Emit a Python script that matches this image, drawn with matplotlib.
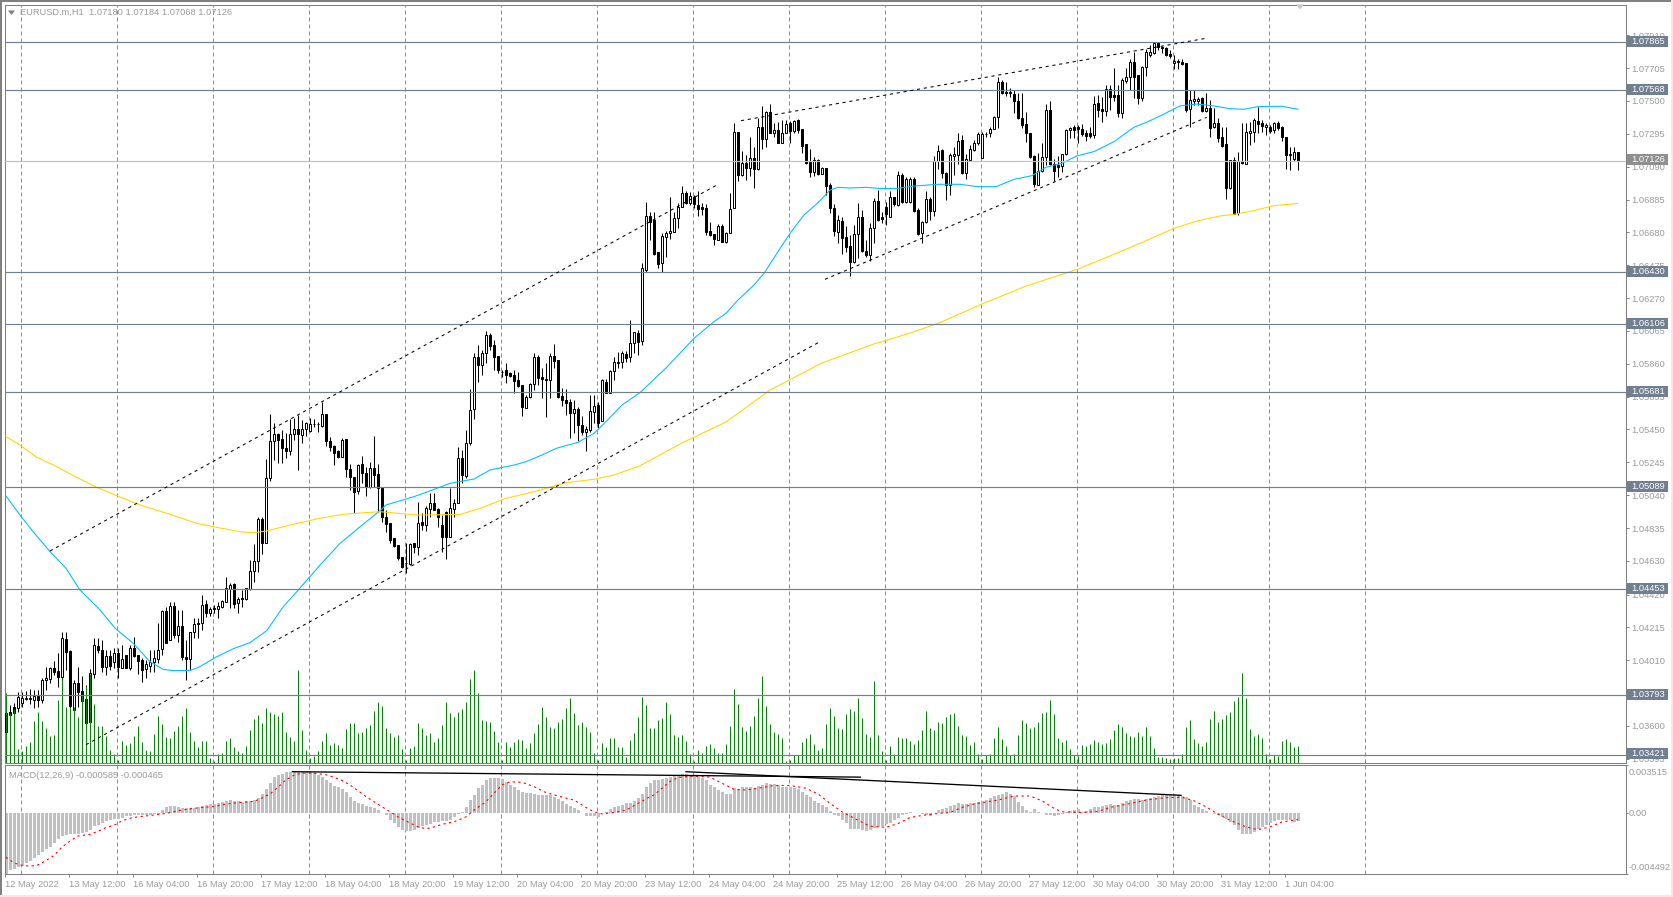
import numpy as np
import matplotlib
matplotlib.use("Agg")
import matplotlib.pyplot as plt
from matplotlib.patches import Rectangle

W, H = 1673, 897
BASE = 1.03      # candle values are points (1e-5) above this price

open_ = [679,689,720,710,745,766,777,764,789,762,
887,893,960,943,908,1143,1070,700,866,820,
768,627,924,1099,1074,970,1039,997,1057,960,
1043,960,1089,1043,1012,953,976,1001,1016,1078,
1317,1136,1349,1168,1224,1028,1016,1184,1245,1240,
1361,1307,1334,1328,1344,1376,1455,1486,1365,1396,
1392,1457,1565,1627,1891,1740,2145,2380,2422,2389,
2332,2318,2420,2451,2418,2451,2443,2484,2484,2472,
2544,2380,2347,2315,2280,2390,2201,2151,2068,2232,
2180,2093,2207,2170,2083,1902,1864,1771,1729,1652,
1615,1610,1739,1719,1875,1854,1954,1989,1951,1854,
1937,1781,1952,1989,2270,2160,2368,2576,2900,2852,
2925,3039,2977,2908,2809,2821,2800,2790,2759,2727,
2586,2650,2734,2900,2775,2763,2759,2908,2883,2659,
2634,2623,2555,2576,2476,2434,2447,2561,2603,2505,
2748,2680,2817,2873,2873,2921,2900,2987,3050,3000,
3445,3782,3757,3555,3487,3649,3678,3684,3768,3836,
3928,3861,3903,3849,3836,3830,3686,3668,3632,3720,
3622,3674,3830,4304,4038,4111,4080,4142,4073,4335,
4263,4429,4302,4319,4240,4302,4360,4315,4381,4323,
4229,4119,4059,4132,4044,4082,3973,3834,3684,3753,
3649,3595,3497,3670,3774,3566,3539,3709,3876,3774,
3836,3774,3899,3851,4036,3872,3872,4015,3820,3674,
3747,3886,3815,4127,4194,4049,3976,4157,4163,4257,
4049,4132,4194,4236,4142,4292,4298,4323,4398,4621,
4558,4556,4544,4502,4392,4354,4298,4157,3976,4063,
4148,4444,4107,4101,4094,4167,4319,4340,4340,4323,
4298,4298,4288,4485,4448,4440,4573,4537,4537,4423,
4627,4652,4745,4662,4517,4710,4785,4802,4864,4839,
4833,4793,4735,4743,4743,4735,4448,4502,4502,4517,
4440,4454,4336,4361,4277,4232,3955,4132,3799,4126,
4107,4302,4309,4375,4365,4336,4340,4319,4361,4340,
4277,4161,4136,4180]

high = [700,731,741,814,814,820,829,824,824,901,
970,970,1005,1053,1184,1184,1074,887,970,912,
856,955,1147,1147,1136,1074,1074,1084,1084,1105,
1043,1105,1157,1043,1022,1012,1074,1074,1245,1324,
1344,1376,1376,1324,1324,1136,1184,1272,1272,1417,
1386,1344,1355,1376,1386,1527,1490,1494,1407,1448,
1459,1636,1735,1906,1906,2264,2547,2488,2430,2447,
2426,2513,2520,2540,2509,2499,2520,2513,2499,2623,
2544,2401,2353,2322,2395,2390,2234,2151,2234,2284,
2218,2249,2409,2234,2083,1947,1864,1771,1729,1656,
1739,1739,1739,1999,1927,1972,2051,2051,1958,1916,
1943,2083,2014,2343,2322,2447,2700,2925,2977,2946,
3066,3054,3008,2908,2821,2863,2811,2821,2811,2727,
2665,2738,2929,2915,2831,2863,2925,2983,2883,2707,
2700,2638,2634,2588,2534,2472,2665,2665,2623,2763,
2763,2821,2900,2935,2942,2942,3133,3060,3071,3487,
3872,3809,3809,3560,3674,3691,3903,3809,3861,3969,
3940,3934,3913,3940,3861,3857,3747,3668,3732,3732,
3684,3928,4365,4304,4190,4163,4273,4215,4392,4469,
4439,4481,4365,4371,4381,4381,4377,4381,4385,4323,
4229,4198,4148,4136,4090,4082,3990,3857,3788,3778,
3720,3664,3726,3865,3820,3632,3741,3892,3944,3809,
3872,3940,3903,4065,4053,4023,4023,4023,3830,3753,
3940,3903,4157,4225,4198,4059,4173,4215,4298,4288,
4169,4225,4257,4309,4309,4309,4340,4406,4648,4631,
4621,4579,4569,4548,4548,4433,4298,4163,4178,4236,
4481,4502,4136,4157,4167,4323,4340,4350,4350,4356,
4319,4340,4531,4537,4527,4600,4600,4704,4600,4641,
4704,4760,4808,4662,4718,4822,4849,4864,4864,4843,
4839,4818,4787,4760,4760,4735,4569,4569,4527,4527,
4548,4506,4454,4392,4340,4340,4132,4153,4184,4361,
4361,4371,4392,4465,4381,4361,4350,4371,4377,4344,
4277,4215,4215,4184]

low = [554,606,679,689,720,762,737,710,720,741,
824,866,918,841,841,949,710,668,720,637,
616,621,897,1053,939,918,949,960,897,960,
960,949,1032,924,876,897,939,939,991,1043,
1116,1136,1147,1126,1012,887,949,1147,1147,1199,
1282,1286,1303,1272,1334,1376,1334,1334,1303,1344,
1386,1448,1500,1563,1673,1740,2131,2260,2239,2239,
2270,2291,2384,2197,2364,2409,2436,2468,2436,2467,
2347,2318,2228,2270,2280,2155,2072,1927,2047,2114,
2035,2083,2093,1937,1875,1812,1739,1719,1635,1583,
1552,1604,1677,1667,1823,1818,1906,1947,1843,1687,
1640,1781,1906,1989,2114,2145,2353,2513,2748,2790,
2863,2946,2821,2800,2779,2738,2779,2675,2717,2534,
2582,2644,2696,2727,2644,2530,2644,2831,2644,2596,
2540,2395,2426,2380,2415,2318,2436,2488,2457,2505,
2675,2675,2759,2831,2831,2873,2873,2925,2915,2977,
3435,3632,3539,3456,3435,3528,3637,3684,3705,3836,
3857,3851,3830,3782,3788,3664,3657,3601,3632,3622,
3612,3674,3830,4003,4032,4007,4032,3955,4069,4198,
4215,4302,4273,4236,4236,4298,4236,4298,4298,4173,
4107,4028,4032,4038,4044,3913,3799,3657,3612,3545,
3560,3408,3487,3518,3560,3528,3503,3612,3753,3736,
3726,3774,3845,3845,3865,3865,3865,3809,3664,3616,
3736,3757,3782,4073,4017,3882,3913,4038,4107,4044,
4011,4128,4190,4225,4142,4273,4277,4323,4329,4544,
4531,4527,4427,4386,4329,4242,4142,3965,3976,4059,
4101,4101,4003,4028,4059,4163,4267,4267,4240,4282,
4250,4267,4267,4402,4371,4406,4444,4502,4398,4392,
4610,4569,4517,4481,4502,4656,4777,4793,4818,4797,
4781,4766,4698,4698,4725,4433,4336,4475,4475,4433,
4433,4273,4329,4246,4215,3886,3949,3793,3789,4107,
4107,4225,4246,4298,4309,4288,4298,4302,4319,4252,
4074,4069,4128,4068]

close = [564,668,683,779,777,777,768,789,762,887,
901,960,935,908,1147,1064,725,866,814,758,
621,928,1105,1074,970,1039,976,1057,970,1016,
960,1089,1037,1007,949,987,1001,1022,1074,1317,
1116,1349,1168,1224,1028,1016,1184,1236,1236,1355,
1307,1330,1332,1349,1378,1459,1480,1361,1390,1390,
1459,1565,1627,1889,1740,2145,2380,2422,2384,2332,
2318,2420,2451,2420,2451,2493,2484,2484,2482,2544,
2380,2343,2305,2280,2384,2201,2151,2062,2228,2180,
2093,2207,2166,2087,1902,1860,1760,1723,1646,1590,
1617,1735,1719,1864,1854,1958,1989,1947,1906,1777,
1777,1958,1989,2270,2166,2363,2571,2900,2852,2925,
3039,2973,2904,2821,2811,2790,2784,2754,2721,2588,
2650,2734,2900,2769,2763,2759,2908,2879,2655,2634,
2617,2555,2576,2478,2434,2451,2565,2596,2488,2759,
2680,2817,2873,2863,2925,2894,2987,3056,2998,3458,
3782,3747,3545,3483,3657,3678,3691,3768,3836,3928,
3861,3907,3857,3828,3828,3684,3664,3637,3720,3622,
3678,3824,4304,4038,4111,4084,4142,4073,4335,4263,
4429,4302,4319,4240,4302,4356,4313,4377,4319,4221,
4111,4059,4132,4044,4082,3969,3830,3691,3757,3647,
3591,3497,3670,3778,3566,3539,3705,3876,3757,3765,
3795,3899,3857,4036,3872,4015,4011,3815,3668,3747,
3886,3815,4127,4190,4053,3976,4163,4169,4250,4049,
4136,4198,4236,4292,4294,4292,4323,4398,4621,4552,
4548,4548,4502,4392,4350,4298,4153,3982,4065,4148,
4444,4107,4065,4086,4167,4319,4329,4319,4325,4292,
4284,4282,4481,4444,4440,4573,4527,4527,4423,4631,
4652,4745,4652,4517,4710,4808,4808,4864,4835,4829,
4787,4781,4747,4747,4731,4444,4506,4510,4510,4440,
4454,4334,4361,4267,4219,3955,4132,3795,4126,4111,
4304,4313,4381,4356,4346,4350,4313,4361,4334,4277,
4163,4167,4184,4126]

volume = [210,152,162,43,38,52,65,128,154,127,
107,83,85,190,256,168,166,168,138,205,
233,268,178,113,113,83,41,28,10,68,
56,60,83,113,63,41,38,88,143,118,
78,76,98,113,141,166,95,66,50,68,
68,15,8,28,31,66,76,50,38,31,
53,100,133,145,120,165,153,148,143,155,
95,78,68,280,
100,40,15,22,37,68,90,55,60,55,
45,102,120,120,90,94,105,115,157,183,
172,105,90,80,85,42,10,47,52,120,
105,85,90,65,75,115,183,150,138,153,
162,185,253,280,210,130,128,125,98,65,
10,65,50,65,72,70,45,60,90,118,
170,138,110,105,125,132,165,197,150,115,
125,110,95,30,10,60,48,75,77,50,
48,20,70,90,138,200,175,105,
105,130,136,183,148,85,78,85,67,28,8,40,30,52,58,45,30,30,58,112,
223,178,109,97,112,142,196,262,172,118,94,88,75,8,10,25,25,64,76,88,
58,40,46,118,166,142,106,103,148,163,157,196,136,88,79,247,85,37,10,52,
28,79,76,76,68,58,70,100,157,106,100,124,121,139,148,151,112,85,82,55,
64,28,13,25,28,76,109,73,51,25,28,85,130,121,106,109,124,151,154,190,
148,76,64,70,43,25,22,55,52,58,70,64,58,61,73,100,118,109,91,82,
79,94,82,109,82,46,20,18,16,13,16,16,28,109,130,73,61,52,64,133,
157,124,133,145,154,187,199,271,196,103,82,88,76,28,13,25,22,67,73,64,
49,52]

# MACD histogram, 1e-5 units
macd_hist = [-452,-417,-412,-398,-385,-368,-348,-329,-306,-287,
-262,-245,-220,-188,-168,-161,-156,-153,-151,-146,
-141,-121,-96,-84,-72,-59,-52,-44,-40,-32,
-22,-20,-17,-17,-15,-15,-12,-7,-5,22,
42,49,52,44,37,35,37,40,42,52,
59,64,69,77,84,91,96,89,86,84,
86,91,99,114,141,178,225,264,282,291,
299,304,311,299,299,299,299,294,279,264,
240,220,203,190,175,153,121,89,77,64,
52,44,40,22,-2,-17,-47,-72,-101,-121,
-133,-133,-126,-106,-96,-89,-77,-67,-62,-59,
-57,-52,-27,-5,10,47,96,133,183,208,
242,259,259,259,252,232,208,190,170,156,
151,146,143,136,131,131,131,121,101,91,
67,52,37,22,0,-22,-22,-22,-27,-2,
12,32,42,52,62,72,77,91,109,141,
195,225,240,245,254,259,269,274,279,287,
284,279,279,269,257,245,210,190,170,156,
141,141,183,175,190,190,190,183,200,207,
220,215,215,207,195,190,190,183,175,158,
136,116,91,72,57,42,15,-10,-22,-52,
-72,-114,-116,-116,-126,-133,-126,-111,-101,-91,
-82,-72,-52,-32,-17,-7,7,2,-2,-7,
-17,-22,-2,22,32,40,49,57,72,64,
67,72,77,82,89,96,109,126,136,143,
153,141,126,79,52,22,12,27,10,-2,
-12,-17,-22,-17,-7,10,17,22,27,12,
17,27,42,47,52,59,64,59,59,77,
91,96,101,101,96,106,111,116,126,131,
131,131,131,131,126,116,96,59,42,27,
15,2,-7,-17,-30,-42,-64,-89,-121,-151,
-156,-156,-138,-114,-101,-89,-72,-59,-47,-47,
-52,-52,-62,-58]

signal_bar = [0,2,4,6,8,10,12,14,16,18,21,23,25,27,29,31,33,36,40,43,46,49,52,55,58,62,64,66,68,70,72,74,77,80,82,84,86,88,90,92,94,96,98,101,103,105,107,109,112,115,117,120,122,124,126,129,132,135,138,142,145,147,149,152,155,158,161,
162,164,166,168,172,176,179,182,185,188,192,196,200,203,206,209,213,216,220,223,226,229,233,236,239,242,245,248,252,256,259,262,264,269,273,276,279,282,285,290,294,297,300,303,306,310,313,316,319,322,323]
signal_val = [-324,-366,-383,-390,-380,-348,-311,-249,-205,-168,-156,-133,-106,-89,-57,-37,-27,-17,-2,17,32,42,49,67,77,86,111,141,190,245,279,294,294,282,264,240,207,165,121,84,47,10,-27,-72,-101,-114,-101,-82,-64,-27,22,84,146,207,230,227,195,151,126,96,42,10,-5,5,22,72,121,
133,183,232,262,272,264,220,175,170,183,203,203,183,141,72,10,-52,-96,-104,-77,-32,-17,-2,5,42,67,82,96,126,126,91,35,10,5,12,42,59,77,96,114,116,91,47,-7,-52,-101,-121,-101,-64,-52,-47]

ma_blue_bar = [0,3.5,6.8,11,15,18.5,23.5,27.3,31.8,36,39.3,41.8,46,48,52.7,57,61,65.2,69.3,72.7,76,78.5,83.5,88.5,93.5,95,102,107,111,117,121,127,130,134,137.5,143,147,150,154,158.5,165,172,177,180,183,187,189.5,193,196,199.5,203,206,208,211,215,219,223,227,233,238.5,243,247.5,252,256.5,260,264,267.7,272,277,282,285.5,288.5,293.5,297.7,302,306,309.5,313,319,323]
ma_blue_val = [2035,1916,1812,1688,1584,1448,1324,1209,1116,1001,953,945,947,964,1032,1084,1120,1195,1344,1438,1532,1604,1739,1843,1943,1979,2031,2076,2114,2141,2197,2228,2249,2291,2332,2370,2426,2499,2603,2680,2834,3019,3123,3175,3258,3352,3424,3560,3674,3788,3865,3944,3961,3957,3961,3953,3955,3969,3980,3980,3965,3965,4011,4034,4086,4111,4157,4184,4246,4336,4371,4406,4469,4481,4469,4452,4448,4465,4467,4448]

ma_gold_bar = [0,3.5,7.7,12.7,17.7,22.7,27.7,33.5,40.2,47.7,52.7,58.5,62,65.2,71,78.5,84.5,93.5,103,113.5,118.5,125,132,140,147,152,158.5,169,180,191,204,217,221,227,233.5,244,255,268,280,285,292,298,303.5,307.7,312,317,323]
ma_gold_val = [2405,2353,2276,2218,2151,2089,2037,1979,1927,1864,1839,1812,1806,1817,1854,1896,1922,1937,1916,1920,1958,2020,2062,2118,2139,2166,2224,2366,2497,2696,2865,2984,3013,3060,3117,3233,3345,3451,3574,3628,3705,3753,3782,3795,3816,3847,3861]

levels = [1.07865,1.07568,1.06430,1.06106,1.05681,1.05089,1.04453,1.03793,1.03421]
last_price = 1.07126
price_ticks = [1.07910,1.07705,1.07500,1.07295,1.07090,1.06885,1.06680,1.06475,1.06270,1.06065,1.05860,1.05655,1.05450,1.05245,1.05040,1.04835,1.04630,1.04420,1.04215,1.04010,1.03805,1.03600,1.03395]
date_labels = ["12 May 2022","13 May 12:00","16 May 04:00","16 May 20:00","17 May 12:00","18 May 04:00","18 May 20:00","19 May 12:00","20 May 04:00","20 May 20:00","23 May 12:00","24 May 04:00","24 May 20:00","25 May 12:00","26 May 04:00","26 May 20:00","27 May 12:00","30 May 04:00","30 May 20:00","31 May 12:00","1 Jun 04:00"]
macd_ticks = [0.003515, 0.0, -0.004492]
macd_tick_labels = ["0.003515","0.00","-0.004492"]

trend_bars = [(11,177.75),(20,203.5),(183.75,300),(204.75,300.2)]
trend_vals = [(1692,3976),(483,2998),(4377,4891),(3387,4398)]
macd_trend_bars = [(71.6,213.6),(170,293.75)]
macd_trend_vals = [(304.5,264.5),(304.5,131)]

FONT = "Liberation Sans"
GREY = "#9a9a9a"
SLATE = "#708090"
FRAME = "#808080"
FS = 6.7

fig = plt.figure(figsize=(W/100, H/100), dpi=100, facecolor="white")

def axes_px(x0, y0, x1, y1):
    return fig.add_axes([x0/W, 1-y1/H, (x1-x0)/W, (y1-y0)/H])

# x: bar i sits at pixel 6 + 4 i
L, R = 4.5, 1625.5
xlim = ((L-6)/4, (R-6)/4)
TOP, BOT = 4.5, 763.3
ylim = (1.03+(5130-6.24*BOT)/1e5, 1.03+(5130-6.24*TOP)/1e5)

ax = axes_px(L, TOP, R, BOT)
ax.set_xlim(*xlim); ax.set_ylim(*ylim)
ax_m = axes_px(L, 765.3, R, 874.3)
ax_m.set_xlim(*xlim); ax_m.set_ylim(-0.004492, 0.003515)

for a in (ax, ax_m):
    for s in a.spines.values():
        s.set_color(FRAME); s.set_linewidth(0.75)

bars = np.arange(len(open_))
O = BASE + np.array(open_)/1e5
Hi = BASE + np.array(high)/1e5
Lo = BASE + np.array(low)/1e5
C = BASE + np.array(close)/1e5

grid_x = [(21+96*k-6)/4 for k in range(15)]
for g in grid_x:
    for a in (ax, ax_m):
        a.axvline(g, color="#8c8c8c", lw=0.72, ls=(0,(4,3)), zorder=1)

# candles
ax.vlines(bars, Lo, Hi, color="black", lw=0.75, zorder=3)
up = C >= O
ax.bar(bars[up], (C-O)[up], bottom=O[up], width=0.58, facecolor="white", edgecolor="black", linewidth=0.72, zorder=4)
ax.bar(bars[~up], (O-C)[~up], bottom=C[~up], width=0.58, facecolor="black", edgecolor="black", linewidth=0.72, zorder=4)

# volumes, overlaid on the price panel
ax_v = fig.add_axes(ax.get_position(), frameon=False)
ax_v.set_xlim(*xlim); ax_v.set_ylim(0, (BOT-TOP)*3)
ax_v.vlines(bars, 0, volume, color="#087f08", lw=0.75, zorder=5)
ax_v.set_xticks([]); ax_v.set_yticks([])
ax_v.patch.set_alpha(0)

# lines on top of the volumes
ax_o = fig.add_axes(ax.get_position(), frameon=False)
ax_o.set_xlim(*xlim); ax_o.set_ylim(*ylim)
ax_o.patch.set_alpha(0)
ax_o.plot(ma_blue_bar, BASE+np.array(ma_blue_val)/1e5, color="#00BFFF", lw=0.78, zorder=6)
ax_o.plot(ma_gold_bar, BASE+np.array(ma_gold_val)/1e5, color="#FFD700", lw=0.78, zorder=6)
for lv in levels:
    ax_o.axhline(lv, color=SLATE, lw=0.85, zorder=7)
ax_o.axhline(last_price, color="#c0c0c0", lw=0.85, zorder=7)
for xs, vs in zip(trend_bars, trend_vals):
    ax_o.plot(xs, BASE+np.array(vs)/1e5, color="black", lw=0.75, ls=(0,(3,3.6)), zorder=8)

# price scale
ax_o.yaxis.tick_right()
ax_o.set_yticks(price_ticks)
ax_o.set_yticklabels([f"{p:.5f}" for p in price_ticks], fontfamily=FONT, fontsize=FS, color=GREY)
ax_o.tick_params(axis="y", length=2.2, width=0.72, color=FRAME, pad=1.8)
ax_o.set_xticks([])
ax.set_xticks([]); ax.set_yticks([])

def px_text(x, y, s, color=GREY):
    fig.text(x/W, 1-y/H, s, fontfamily=FONT, fontsize=FS, color=color, va="center", ha="left", zorder=30)

def price_y_px(p):
    return H - ax_o.transData.transform((0, p))[1]

# tags on the price scale
for lv, col in [(v, SLATE) for v in levels] + [(last_price, "#8f8f8f")]:
    yp = price_y_px(lv) - 1
    fig.add_artist(Rectangle((1627/W, 1-(yp+5.5)/H), 41/W, 11/H, transform=fig.transFigure, color=col, lw=0, zorder=25))
    px_text(1631, yp, f"{lv:.5f}", color="white")

# MACD panel
ax_m.bar(bars, np.array(macd_hist)/1e5, width=0.75, color="#c0c0c0", linewidth=0, zorder=2)
ax_m.plot(signal_bar, np.array(signal_val)/1e5, color="red", lw=0.8, ls=(0,(2,3)), zorder=3)
for xs, vs in zip(macd_trend_bars, macd_trend_vals):
    ax_m.plot(xs, np.array(vs)/1e5, color="black", lw=0.95, zorder=4)
ax_m.yaxis.tick_right()
ax_m.set_yticks(macd_ticks)
ax_m.set_yticklabels([])
ax_m.tick_params(axis="y", length=1.5, width=0.72, color=FRAME)
for txt, yp in zip(macd_tick_labels, [772.6, 813.5, 867.7]):
    px_text(1629, yp, txt)
ax_m.set_xticks([(5+64*k-6)/4 for k in range(len(date_labels))])
ax_m.set_xticklabels(date_labels, fontfamily=FONT, fontsize=FS, color=GREY, ha="left")
ax_m.tick_params(axis="x", length=2.2, width=0.72, color=FRAME, pad=1.6)

px_text(20, 12.7, "EURUSD.m,H1  1.07180 1.07184 1.07068 1.07126")
px_text(9, 775, "MACD(12,26,9) -0.000585 -0.000465")

# small markers and window edges
fig.add_artist(plt.Polygon([(8/W,1-10.5/H),(15/W,1-10.5/H),(11.5/W,1-15/H)], transform=fig.transFigure, color="#808080", lw=0))
fig.add_artist(plt.Polygon([(1296/W,1-4.5/H),(1304/W,1-4.5/H),(1300/W,1-9.5/H)], transform=fig.transFigure, color="#c8c8c8", lw=0))
for (x0, y0, w, h, col) in [(0,0,W,1.7,"#808080"),(0,0,1.7,H,"#808080"),(W-1.7,0,1.7,H,"#ececec"),(0,H-2,W,2,"#ececec")]:
    fig.add_artist(Rectangle((x0/W, 1-(y0+h)/H), w/W, h/H, transform=fig.transFigure, color=col, lw=0))

fig.savefig("out.png", dpi=100, facecolor="white")
